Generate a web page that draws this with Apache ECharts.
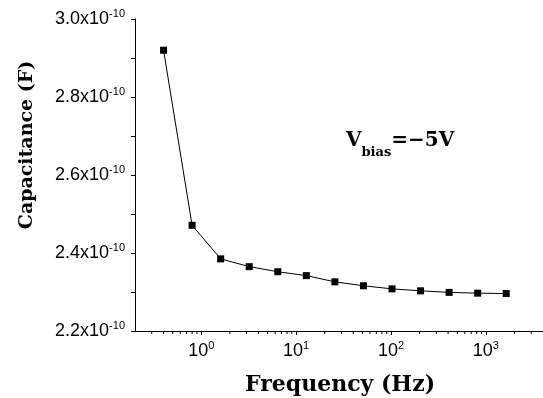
<!DOCTYPE html>
<html>
<head>
<meta charset="utf-8">
<script src="https://cdn.jsdelivr.net/npm/echarts@6/dist/echarts.min.js"></script>
<style>
html,body{margin:0;padding:0;background:#fff;}
#chart{width:543px;height:398px;}
</style>
</head>
<body>
<div id="chart"></div>
<script>
// Frequency (Hz)
var frequency = [0.4, 0.8, 1.6, 3.2, 6.4, 12.8, 25.6, 51.2, 102.4, 204.8, 409.6, 819.2, 1638.4];
// Capacitance in units of 1e-10 F
var capacitance = [2.920, 2.471, 2.385, 2.365, 2.352, 2.342, 2.326, 2.316, 2.308, 2.303, 2.299, 2.297, 2.296];
var xMin = 0.2, xMax = 4000;
var yMin = 2.2, yMax = 3.0, yStep = 0.2;
var xTitle = 'Frequency (Hz)';
var yTitle = 'Capacitance (F)';

// minor tick values on the log axis (2..9 x 10^k)
var minorTickValues = [];
for (var k = -1; k <= 3; k++) {
  for (var m = 2; m <= 9; m++) {
    var v = m * Math.pow(10, k);
    if (v > xMin && v < xMax) minorTickValues.push(v);
  }
}

var labelRich = {
  n: {fontFamily: 'Liberation Sans', fontSize: 18, color: '#000', lineHeight: 22},
  s: {fontFamily: 'Liberation Sans', fontSize: 11, color: '#000', verticalAlign: 'top', lineHeight: 11}
};

var chart = echarts.init(document.getElementById('chart'));
var option = {
  animation: false,
  backgroundColor: '#ffffff',
  grid: {left: 135, right: 0, top: 19, bottom: 67},
  xAxis: {
    type: 'log',
    logBase: 10,
    min: xMin,
    max: xMax,
    splitLine: {show: false},
    axisLine: {lineStyle: {color: '#000', width: 1}},
    axisTick: {show: true, length: 4, lineStyle: {color: '#000'}},
    axisLabel: {
      margin: 9,
      showMinLabel: false,
      showMaxLabel: false,
      formatter: function (v) {
        var e = Math.round(Math.log10(v));
        if (Math.abs(Math.log10(v) - e) > 1e-6) return '';
        return '{n|10}{s|' + e + '}';
      },
      rich: labelRich
    }
  },
  yAxis: {
    type: 'value',
    min: yMin,
    max: yMax,
    interval: yStep,
    splitLine: {show: false},
    axisLine: {show: true, lineStyle: {color: '#000', width: 1}},
    axisTick: {show: true, length: 4, lineStyle: {color: '#000'}},
    minorTick: {show: true, splitNumber: 2, length: 4, lineStyle: {color: '#000'}},
    axisLabel: {
      margin: 10,
      formatter: function (v) {
        return '{n|' + v.toFixed(1) + 'x10}{s|-10}';
      },
      rich: labelRich
    }
  },
  series: [
    {
      type: 'line',
      data: frequency.map(function (f, i) { return [f, capacitance[i]]; }),
      symbol: 'rect',
      symbolSize: 7,
      lineStyle: {color: '#000', width: 1},
      itemStyle: {color: '#000'},
      z: 3
    },
    {
      type: 'custom',
      clip: false,
      silent: true,
      data: minorTickValues.map(function (v) { return [v, yMin]; }),
      renderItem: function (params, api) {
        var p = api.coord([api.value(0), api.value(1)]);
        return {
          type: 'line',
          shape: {x1: p[0], y1: p[1], x2: p[0], y2: p[1] + 3},
          style: {stroke: '#000', lineWidth: 1}
        };
      }
    }
  ],
  graphic: [
    {
      type: 'text',
      x: 340, y: 385,
      style: {
        text: xTitle,
        font: 'bold 22px "DejaVu Serif"',
        fill: '#000',
        align: 'center',
        verticalAlign: 'middle'
      }
    },
    {
      type: 'text',
      x: 27, y: 145,
      rotation: Math.PI / 2,
      style: {
        text: yTitle,
        font: 'bold 19px "DejaVu Serif"',
        fill: '#000',
        align: 'center',
        verticalAlign: 'middle'
      }
    },
    {
      type: 'text',
      x: 346, y: 131,
      style: {
        text: '{v|V}{b|bias}{v|=\u22125V}',
        rich: {
          v: {font: 'bold 20px "DejaVu Serif"', fill: '#000', lineHeight: 28, verticalAlign: 'top'},
          b: {font: 'bold 13px "DejaVu Serif"', fill: '#000', lineHeight: 28, verticalAlign: 'bottom'}
        }
      }
    }
  ]
};
chart.setOption(option);
</script>
</body>
</html>
